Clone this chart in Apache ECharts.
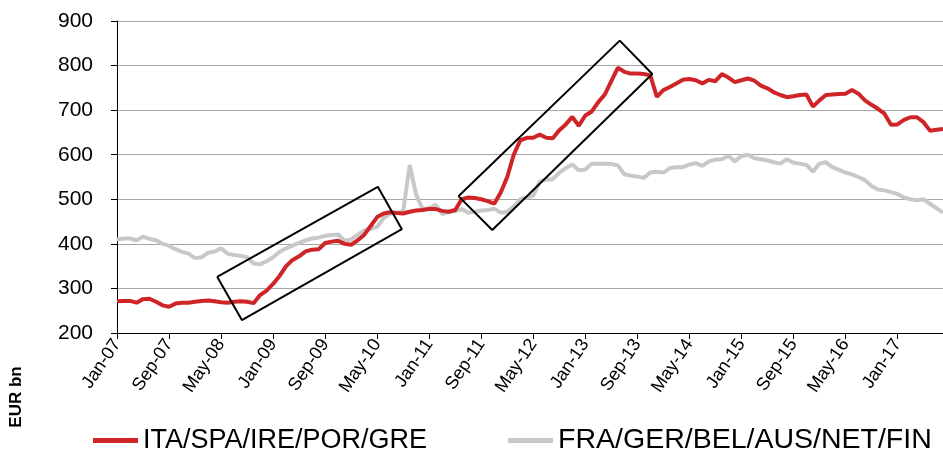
<!DOCTYPE html>
<html>
<head>
<meta charset="utf-8">
<script src="https://cdn.jsdelivr.net/npm/echarts@6/dist/echarts.min.js"></script>
<style>html,body{margin:0;padding:0;background:#fff}#c{width:943px;height:449px}</style>
</head>
<body>
<div id="c"></div>
<script>
// Categories: monthly Jan-07 .. Aug-17
var months = ['Jan','Feb','Mar','Apr','May','Jun','Jul','Aug','Sep','Oct','Nov','Dec'];
var categories = [];
for (var y = 7; y <= 17; y++) {
  for (var m = 0; m < 12; m++) {
    if (y === 17 && m > 7) break;
    categories.push(months[m] + '-' + (y < 10 ? '0' + y : '' + y));
  }
}

var seriesNames = ['ITA/SPA/IRE/POR/GRE', 'FRA/GER/BEL/AUS/NET/FIN'];

var periphery = [
271,272,272,268,276,277,270,262,259,266,268,268,
270,272,273,271,269,268,270,271,270,267,285,295,
310,328,350,364,372,383,387,388,402,405,407,400,
398,408,420,440,460,468,471,469,468,472,475,476,
478,478,474,472,476,500,504,503,500,496,490,515,
550,600,632,638,638,645,638,637,655,668,685,665,
688,697,718,735,765,795,786,782,782,781,778,730,
745,752,760,768,770,767,760,768,765,781,773,763,
767,771,766,755,749,740,734,729,731,734,735,708,
722,734,735,736,737,745,737,722,712,703,692,667,
668,678,684,684,673,654,656,658
];

var core = [
410,412,412,408,416,411,408,400,396,388,382,378,
368,370,380,383,390,378,375,373,370,356,354,361,
370,382,390,396,402,408,412,414,418,420,421,407,
410,420,430,434,438,458,468,470,473,577,510,478,
480,488,467,472,473,478,470,472,475,476,479,470,
472,484,500,504,508,540,544,545,560,570,578,565,
567,580,580,580,579,576,556,553,551,548,560,562,
560,570,572,572,578,581,575,585,589,590,597,585,
597,600,592,590,587,583,580,590,582,580,577,562,
580,583,572,566,560,556,550,543,530,522,520,516,
512,504,500,498,500,490,480,470
];

// Annotation boxes, corners in (month index, EUR bn)
var box1 = [[15.4,326],[40.1,528],[43.8,433],[19.2,229],[15.4,326]];
var box2 = [[52.5,507],[77.3,856],[82.3,781],[57.7,431],[52.5,507]];

var yTicks = {min: 200, max: 900, interval: 100};

var chart = echarts.init(document.getElementById('c'), null, {renderer: 'canvas'});
var font = 'Liberation Sans, Arial, sans-serif';
chart.setOption({
  animation: false,
  backgroundColor: '#fff',
  textStyle: {fontFamily: font},
  grid: {left: 117, right: 0, top: 21, bottom: 116, containLabel: false},
  legend: {
    data: [
      {name: seriesNames[0], textStyle: {fontSize: 27}},
      {name: seriesNames[1], textStyle: {fontSize: 28.5}}
    ],
    left: 88, top: 421,
    itemWidth: 45, itemHeight: 5, itemGap: 81,
    icon: 'rect',
    textStyle: {fontSize: 27, color: '#000', fontFamily: font}
  },
  xAxis: [{
    type: 'category',
    data: categories,
    boundaryGap: false,
    axisLine: {lineStyle: {color: '#000', width: 1}},
    axisTick: {interval: 7, length: 6, lineStyle: {color: '#000'}},
    axisLabel: {interval: 7, rotate: 56, fontSize: 18, color: '#000', margin: 8, fontFamily: font},
    splitLine: {show: false}
  }, {
    type: 'value', min: 0, max: categories.length - 1, show: false
  }],
  yAxis: {
    type: 'value',
    min: yTicks.min, max: yTicks.max, interval: yTicks.interval,
    axisLine: {show: true, lineStyle: {color: '#000', width: 1}},
    axisTick: {show: true, length: 6, lineStyle: {color: '#000'}},
    axisLabel: {fontSize: 21, color: '#000', margin: 24, fontFamily: font},
    splitLine: {lineStyle: {color: '#a6a6a6', width: 1}}
  },
  graphic: [{
    type: 'text', x: 16, y: 397, rotation: Math.PI / 2,
    style: {text: 'EUR bn', font: 'bold 17px ' + font, fill: '#000', textAlign: 'center', textVerticalAlign: 'middle'}
  }],
  series: [{
    name: seriesNames[1], type: 'line', data: core, symbol: 'none',
    lineStyle: {color: '#c8c8c8', width: 4}, itemStyle: {color: '#c8c8c8'}, z: 2
  }, {
    name: seriesNames[0], type: 'line', data: periphery, symbol: 'none',
    lineStyle: {color: '#cf2528', width: 4}, itemStyle: {color: '#cf2528'}, z: 3
  }, {
    name: 'box1', type: 'line', xAxisIndex: 1, data: box1, symbol: 'none', silent: true,
    lineStyle: {color: '#000', width: 2}, z: 4
  }, {
    name: 'box2', type: 'line', xAxisIndex: 1, data: box2, symbol: 'none', silent: true,
    lineStyle: {color: '#000', width: 2}, z: 4
  }]
});
</script>
</body>
</html>
